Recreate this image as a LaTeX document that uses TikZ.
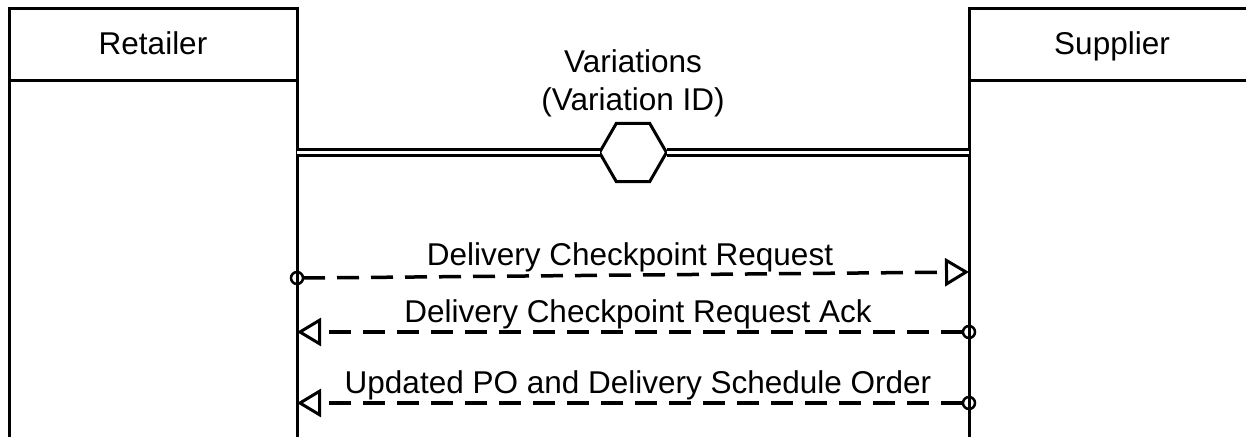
\documentclass[tikz,border=0pt]{standalone}
\usepackage{fontspec}
\setmainfont{Liberation Sans}
\usetikzlibrary{arrows.meta,shapes.geometric}
\begin{document}
\begin{tikzpicture}[x=1pt,y=-1pt,
  every node/.style={font=\fontsize{31.5}{36}\selectfont, inner sep=0pt, outer sep=0pt},
  life/.style={line width=3pt},
  head/.style={line width=3pt},
  msg/.style={line width=3.5pt, dash pattern=on 22pt off 12pt},
  opentip/.style={-{Triangle[open,length=24pt,width=28pt,line width=3pt]}},
  endcirc/.style={circle, draw, line width=2.5pt, minimum size=12pt},
  hexa/.style={regular polygon, regular polygon sides=6, minimum size=67pt, draw, line width=3pt, fill=white},
  dbl/.style={line width=2.5pt, double, double distance=3.5pt}
]
\useasboundingbox (0,0) rectangle (1246,436);
\clip (0,0) rectangle (1246,436);

% Retailer
\draw[head] (9,80) -- (9,9) -- (297,9) -- (297,80);
\draw[life] (9,80) -- (297,80);
\node[anchor=base] (ret) at (153,55) {Retailer};
\draw[life] (9,80) coordinate (rl1) -- (9,440) coordinate (rl2);
\draw[life] (297,80) coordinate (rr1) -- (297,440) coordinate (rr2);

% Supplier
\draw[head] (969,80) -- (969,9) -- (1258,9) -- (1258,80);
\draw[life] (969,80) -- (1258,80);
\node[anchor=base] (sup) at (1112,55) {Supplier};
\draw[life] (969,80) coordinate (sl1) -- (969,440) coordinate (sl2);

% Variations
\node[anchor=base] (var1) at (633,72) {Variations};
\node[anchor=base] (var2) at (633,110) {(Variation ID)};
\coordinate (dl) at (297,152.5);
\coordinate (dr) at (969,152.5);
\node[hexa] (hex) at (633,152.5) {};
\draw[dbl] (dl) -- (hex.west);
\draw[dbl] (hex.east) -- (dr);

% Message 1
\node[endcirc] (c1) at (297,278) {};
\coordinate (t1) at (969,272);
\draw[msg, opentip] (c1.east) -- (t1);
\node[anchor=base] (m1) at (630,265) {Delivery Checkpoint Request};

% Message 2
\node[endcirc] (c2) at (969,332) {};
\coordinate (t2) at (297,332);
\draw[msg, opentip] (c2.west) -- (t2);
\node[anchor=base] (m2) at (638,322) {Delivery Checkpoint Request Ack};

% Message 3
\node[endcirc] (c3) at (969,403) {};
\coordinate (t3) at (297,403);
\draw[msg, opentip] (c3.west) -- (t3);
\node[anchor=base] (m3) at (638,393) {Updated PO and Delivery Schedule Order};
\end{tikzpicture}
\end{document}
